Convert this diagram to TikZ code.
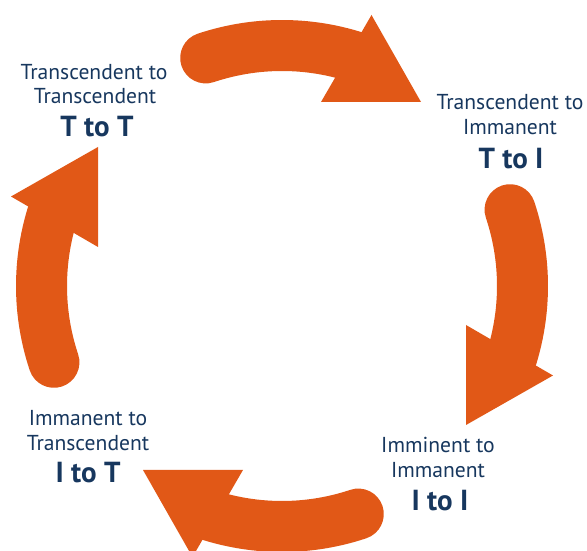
\documentclass[tikz,border=0pt]{standalone}
\usepackage{fontspec}
\setmainfont{PT Sans}
\definecolor{arroworange}{RGB}{225,88,23}
\definecolor{labelnavy}{RGB}{23,55,94}
\begin{document}
\begin{tikzpicture}[x=1pt,y=1pt,
  arrowband/.style={fill=arroworange},
  lbl/.style={text=labelnavy, font=\fontsize{21.6}{26}\selectfont, anchor=base, inner sep=0pt},
  lblbold/.style={text=labelnavy, font=\fontsize{29}{34}\selectfont\bfseries, anchor=base, inner sep=0pt}]
\useasboundingbox (0,0) rectangle (587,551);
\foreach \k in {0,1,2,3}{
  \begin{scope}[shift={(282,265)}, rotate=-90*\k]
    \fill[arrowband] (108.5:266) arc[start angle=108.5,end angle=68,radius=266]
      -- (68:215) arc[start angle=68,end angle=108.5,radius=215]
      arc[start angle=288.5,end angle=108.5,radius=25.5] -- cycle;
    \fill[arrowband] (89.5,271) -- (39,184) -- (139,184) -- cycle;
  \end{scope}
}
\node[lbl] (ttA) at (94,471) {Transcendent to};
\node[lbl] (ttB) at (95,447) {Transcendent};
\node[lblbold] (ttC) at (97,414) {T to T};
\node[lbl] (tiA) at (510,441) {Transcendent to};
\node[lbl] (tiB) at (510,416) {Immanent};
\node[lblbold] (tiC) at (511,382) {T to I};
\node[lbl] (itA) at (88,125) {Immanent to};
\node[lbl] (itB) at (88,100) {Transcendent};
\node[lblbold] (itC) at (88,68) {I to T};
\node[lbl] (iiA) at (438,98) {Imminent to};
\node[lbl] (iiB) at (438,73) {Immanent};
\node[lblbold] (iiC) at (440,40) {I to I};
\end{tikzpicture}
\end{document}
